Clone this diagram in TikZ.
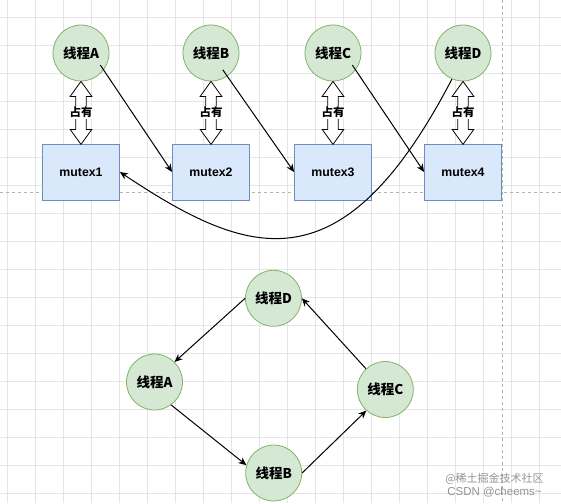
\documentclass[tikz,border=0pt]{standalone}
\usepackage{fontspec}
\setmainfont{Liberation Sans}
\newfontfamily\cjk{Noto Sans CJK SC}
\usetikzlibrary{arrows.meta,calc}
\definecolor{threadfill}{HTML}{D5E8D4}
\definecolor{threaddraw}{HTML}{82B366}
\definecolor{mutexfill}{HTML}{DAE8FC}
\definecolor{mutexdraw}{HTML}{6C8EBF}
\tikzset{
    grid_line/.style={draw=black!10, line width=0.6pt},
    page_line/.style={draw=black!30, line width=0.6pt, dash pattern={on 3pt off 3pt}},
    thread_node/.style={circle, minimum size=56pt, inner sep=0pt, fill=threadfill, draw=threaddraw, line width=0.8pt, font=\cjk\bfseries\fontsize{13.5}{15}\selectfont},
    mutex_node/.style={rectangle, minimum width=77pt, minimum height=56pt, inner sep=0pt, fill=mutexfill, draw=mutexdraw, line width=0.8pt, font=\bfseries\fontsize{12.3}{14}\selectfont},
    edge_arrow/.style={-{Stealth[length=8pt,width=7pt]}, line width=1pt, draw=black},
    hold_arrow/.style={draw=black, fill=white, line width=0.8pt, line join=miter},
    hold_label/.style={fill=white, inner sep=1pt, font=\cjk\bfseries\fontsize{11.5}{13}\selectfont},
    mark_text/.style={text=black!50, opacity=0.85, inner sep=0pt}
}
\begin{document}
\begin{tikzpicture}[x=1pt, y=-1pt]
    \useasboundingbox (0,0) rectangle (561,503);
    % background grid and page breaks
    \foreach \gx in {0,...,19}
        \draw[grid_line] ({7.5+28*\gx},0) -- ({7.5+28*\gx},503);
    \foreach \gy in {0,...,17}
        \draw[grid_line] (0,{17+28*\gy}) -- (561,{17+28*\gy});
    \draw[page_line] (0,192) -- (561,192);
    \draw[page_line] (502.5,0) -- (502.5,503);

    % threads holding their mutex
    \node[thread_node] (tA) at (81,53) {线程A};
    \node[thread_node] (tB) at (211,53) {线程B};
    \node[thread_node] (tC) at (333,53) {线程C};
    \node[thread_node] (tD) at (463,53) {线程D};
    \node[mutex_node] (m1) at (81,172) {mutex1};
    \node[mutex_node] (m2) at (211,172) {mutex2};
    \node[mutex_node] (m3) at (333,172) {mutex3};
    \node[mutex_node] (m4) at (463,172) {mutex4};
    \foreach \thr/\mtx in {tA/m1, tB/m2, tC/m3, tD/m4} {
        \draw[hold_arrow] (\thr.south) -- ++(10.8,15) -- ++(-5.6,0) -- ++(0,33)
            -- ++(5.6,0) -- ++(-10.8,15) -- ++(-10.8,-15) -- ++(5.6,0)
            -- ++(0,-33) -- ++(-5.6,0) -- cycle;
        \node[hold_label] at ($(\thr.south)!0.5!(\mtx.north)$) {占有};
    }
    \draw[edge_arrow, shorten <=-6pt] (tA.-37) -- (m2.west);
    \draw[edge_arrow, shorten <=-8pt] (tB.-55) -- (m3.west);
    \draw[edge_arrow, shorten <=-6pt] (tC.-37) -- (m4.west);
    \draw[edge_arrow] (tD.-113) .. controls +(-110,211) and +(129,86) .. (m1.east);

    % wait cycle
    \node[thread_node] (cD) at (273.5,298.3) {线程D};
    \node[thread_node] (cA) at (154.5,382) {线程A};
    \node[thread_node] (cC) at (385.3,389.5) {线程C};
    \node[thread_node] (cB) at (273.7,473) {线程B};
    \draw[edge_arrow] (cD.west) -- (cA.45);
    \draw[edge_arrow] (cA.-54) -- (cB.164);
    \draw[edge_arrow] (cB.east) -- (cC.-132);
    \draw[edge_arrow] (cC.133) -- (cD.east);

    \node[mark_text, font=\cjk\fontsize{11}{12}\selectfont] (mark1) at (494.5,478.5) {@稀土掘金技术社区};
    \node[mark_text, font=\fontsize{11.5}{12}\selectfont] (mark2) at (494.5,492) {CSDN @cheems\textasciitilde};
\end{tikzpicture}
\end{document}
